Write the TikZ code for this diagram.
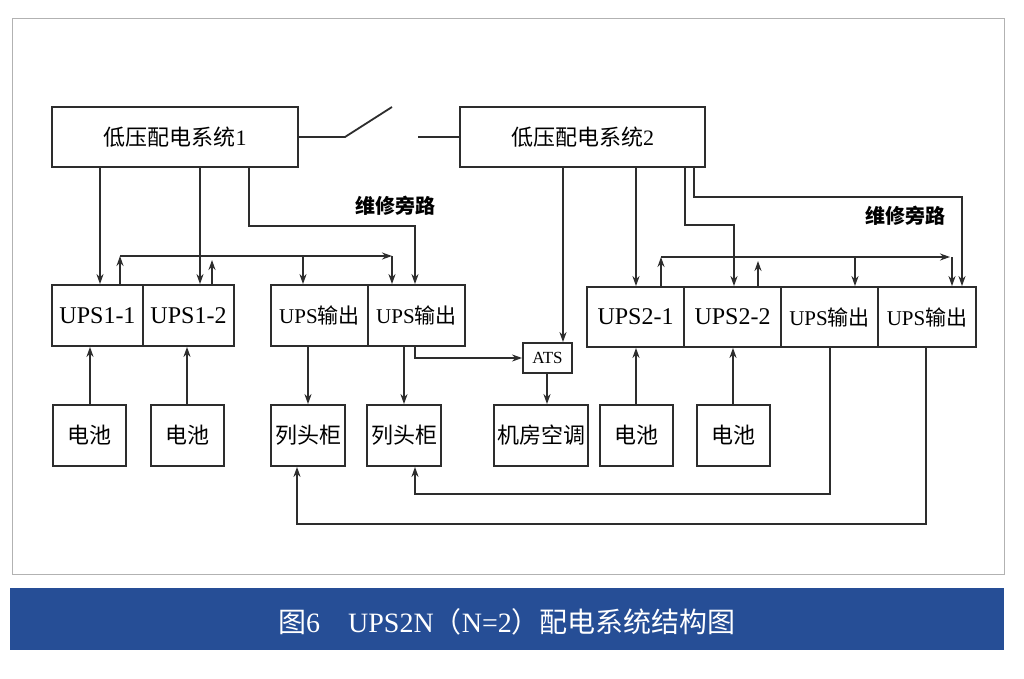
\documentclass[tikz,border=0pt]{standalone}
\usepackage{fontspec}
\setmainfont{Liberation Serif}
\newfontfamily\cjk{Noto Sans CJK SC}
\usetikzlibrary{arrows.meta}
\definecolor{ink}{RGB}{45,45,45}
\definecolor{barblue}{RGB}{38,78,150}
\begin{document}
\begin{tikzpicture}[x=1pt,y=-1pt,
  box/.style={draw=ink,line width=1.8pt,minimum width=#1,minimum height=60pt,inner sep=0pt,font=\fontsize{24}{24}\selectfont},
  ln/.style={draw=ink,line width=1.8pt},
  ar/.style={ln,-{Stealth[length=10pt,width=7pt]}}]
\fill[white] (0,0) rectangle (1024,679);
\useasboundingbox (0,0) rectangle (1024,679);
\draw[gray!60,line width=0.8pt] (12,18) rectangle (1004,574);
\fill[barblue] (10,588) rectangle (1004,650);
\node[text=white,font=\fontsize{28}{28}\selectfont] (cap) at (507,622) {{\cjk 图}6\quad UPS2N{\cjk （}N=2{\cjk ）配电系统结构图}};
% top systems
\node[box=246pt,font=\fontsize{22}{22}\selectfont] (s1) at (175,137) {{\cjk 低压配电系统}1};
\node[box=245pt,font=\fontsize{22}{22}\selectfont] (s2) at (582.5,137) {{\cjk 低压配电系统}2};
% switch
\coordinate (sw1) at (345,137); \coordinate (sw2) at (392,107); \coordinate (sw3) at (418,137);
\draw[ln] (s1.east) -- (sw1) -- (sw2);
\draw[ln] (sw3) -- (s2.west);
% UPS groups
\node[box=91pt,minimum height=61pt] (u11) at (97.5,315.5) {UPS1-1};
\node[box=91pt,minimum height=61pt] (u12) at (188.5,315.5) {UPS1-2};
\node[box=97pt,minimum height=61pt,font=\fontsize{21}{21}\selectfont] (o1) at (319.5,315.5) {UPS{\cjk 输出}};
\node[box=97pt,minimum height=61pt,font=\fontsize{21}{21}\selectfont] (o2) at (416.5,315.5) {UPS{\cjk 输出}};
\node[box=97pt,minimum height=60pt] (u21) at (635.5,317) {UPS2-1};
\node[box=97pt,minimum height=60pt] (u22) at (732.5,317) {UPS2-2};
\node[box=97pt,minimum height=60pt,font=\fontsize{21}{21}\selectfont] (o3) at (829.5,317) {UPS{\cjk 输出}};
\node[box=98pt,minimum height=60pt,font=\fontsize{21}{21}\selectfont] (o4) at (927,317) {UPS{\cjk 输出}};
\node[box=49pt,minimum height=30pt,font=\fontsize{17}{17}\selectfont] (ats) at (547.5,358) {ATS};
% bottom boxes
\node[box=73pt,minimum height=61pt,font=\cjk\fontsize{22}{22}\selectfont] (b1) at (89.5,435.5) {电池};
\node[box=73pt,minimum height=61pt,font=\cjk\fontsize{22}{22}\selectfont] (b2) at (187.5,435.5) {电池};
\node[box=74pt,minimum height=61pt,font=\cjk\fontsize{22}{22}\selectfont] (l1) at (308,435.5) {列头柜};
\node[box=74pt,minimum height=61pt,font=\cjk\fontsize{22}{22}\selectfont] (l2) at (404,435.5) {列头柜};
\node[box=94pt,minimum height=61pt,font=\cjk\fontsize{22}{22}\selectfont] (ac) at (541,435.5) {机房空调};
\node[box=73pt,minimum height=61pt,font=\cjk\fontsize{22}{22}\selectfont] (b3) at (636.5,435.5) {电池};
\node[box=73pt,minimum height=61pt,font=\cjk\fontsize{22}{22}\selectfont] (b4) at (733.5,435.5) {电池};
% labels
\node[font=\cjk\bfseries\fontsize{20}{20}\selectfont] (lab1) at (395,206) {维修旁路};
\node[font=\cjk\bfseries\fontsize{20}{20}\selectfont] (lab2) at (905,216) {维修旁路};
% left feeds
\draw[ar] (s1.south -| 100,0) -- (u11.north -| 100,0);
\draw[ar] (s1.south -| 200,0) -- (u12.north -| 200,0);
\draw[ar] (s1.south -| 249,0) |- (415,226) -- (o2.north -| 415,0);
% left bus
\draw[ar] (u11.north -| 120,0) -- (120,256);
\draw[ar] (u12.north -| 212,0) -- (212,260);
\draw[ar] (120,256) -- (392,256);
\draw[ar] (392,256) -- (o2.north -| 392,0);
\draw[ar] (303,256) -- (o1.north -| 303,0);
% batteries
\draw[ar] (b1.north -| 90,0) -- (u11.south -| 90,0);
\draw[ar] (b2.north -| 187,0) -- (u12.south -| 187,0);
\draw[ar] (b3.north -| 636,0) -- (u21.south -| 636,0);
\draw[ar] (b4.north -| 733,0) -- (u22.south -| 733,0);
% outputs left
\draw[ar] (o1.south -| 308,0) -- (l1.north -| 308,0);
\draw[ar] (o2.south -| 404,0) -- (l2.north -| 404,0);
\draw[ar] (o2.south -| 415,0) |- (ats.west);
\draw[ar] (s2.south -| 563,0) -- (ats.north -| 563,0);
\draw[ar] (ats.south -| 547,0) -- (ac.north -| 547,0);
% right feeds
\draw[ar] (s2.south -| 636,0) -- (u21.north -| 636,0);
\draw[ar] (s2.south -| 685,0) |- (734,225) -- (u22.north -| 734,0);
\draw[ar] (s2.south -| 694,0) |- (962,197) -- (o4.north -| 962,0);
% right bus
\draw[ar] (u21.north -| 661,0) -- (661,257);
\draw[ar] (u22.north -| 758,0) -- (758,261);
\draw[ar] (661,257) -- (950,257);
\draw[ar] (952,257) -- (o4.north -| 952,0);
\draw[ar] (855,257) -- (o3.north -| 855,0);
% return lines
\draw[ar] (o3.south -| 830,0) |- (415,494) -- (l2.south -| 415,0);
\draw[ar] (o4.south -| 926,0) |- (297,524) -- (l1.south -| 297,0);
\end{tikzpicture}
\end{document}
